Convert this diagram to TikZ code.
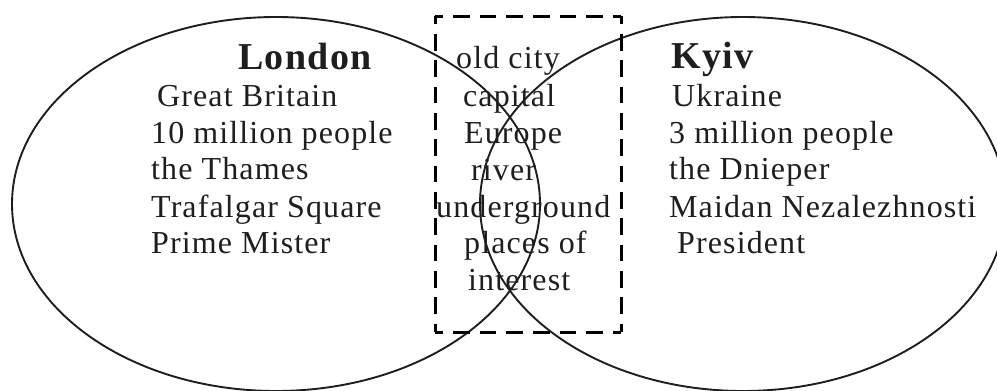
\documentclass[tikz,border=0pt]{standalone}
\usepackage{fontspec}
\setmainfont{Liberation Serif}[LetterSpace=3.5]
\usetikzlibrary{shapes.geometric}
\definecolor{ink}{RGB}{30,30,30}
\tikzset{
  circ/.style={draw=ink, line width=1.9pt, ellipse, inner sep=0pt, outer sep=0pt},
  boxnode/.style={inner sep=0pt, outer sep=0pt, minimum width=186pt, minimum height=316pt},
  hside/.style={draw=black, line width=3pt, dash pattern=on 16.5pt off 10.07pt, dash phase=8.25pt},
  vside/.style={draw=black, line width=3pt, dash pattern=on 16.5pt off 9.83pt, dash phase=8.25pt},
  txt/.style={anchor=base west, inner sep=0pt, text=ink, font=\fontsize{32}{36}\selectfont},
  head/.style={anchor=base west, inner sep=0pt, text=ink, font=\fontsize{38}{40}\selectfont\bfseries}
}
\begin{document}
\begin{tikzpicture}[x=1pt,y=-1pt]
\useasboundingbox (0,0) rectangle (997,391);
\node[circ, minimum width=528pt, minimum height=374pt] (L) at (276,204) {};
\node[circ, minimum width=526pt, minimum height=374pt] (K) at (743,204) {};
\node[boxnode] (box) at (528,174) {};
\draw[hside] (box.north west) -- (box.north east);
\draw[hside] (box.south west) -- (box.south east);
\draw[vside] (box.north west) -- (box.south west);
\draw[vside] (box.north east) -- (box.south east);
% London
\node[head] (lh) at (238,69) {London};
\node[txt] (l1) at (157,106) {Great Britain};
\node[txt] (l2) at (151,143) {10 million people};
\node[txt] (l3) at (151,179) {the Thames};
\node[txt] (l4) at (151,217) {Trafalgar Square};
\node[txt] (l5) at (151,253) {Prime Mister};
% common
\node[txt] (c1) at (456,68) {old city};
\node[txt] (c2) at (463,106) {capital};
\node[txt] (c3) at (464,143) {Europe};
\node[txt] (c4) at (471,180) {river};
\node[txt] (c5) at (436,217) {underground};
\node[txt] (c6) at (464,253) {places of};
\node[txt] (c7) at (468,290) {interest};
% Kyiv
\node[head] (kh) at (671,68) {Kyiv};
\node[txt] (k1) at (672,106) {Ukraine};
\node[txt] (k2) at (669,143) {3 million people};
\node[txt] (k3) at (669,179) {the Dnieper};
\node[txt] (k4) at (669,217) {Maidan Nezalezhnosti};
\node[txt] (k5) at (677,253) {President};
\end{tikzpicture}
\end{document}
